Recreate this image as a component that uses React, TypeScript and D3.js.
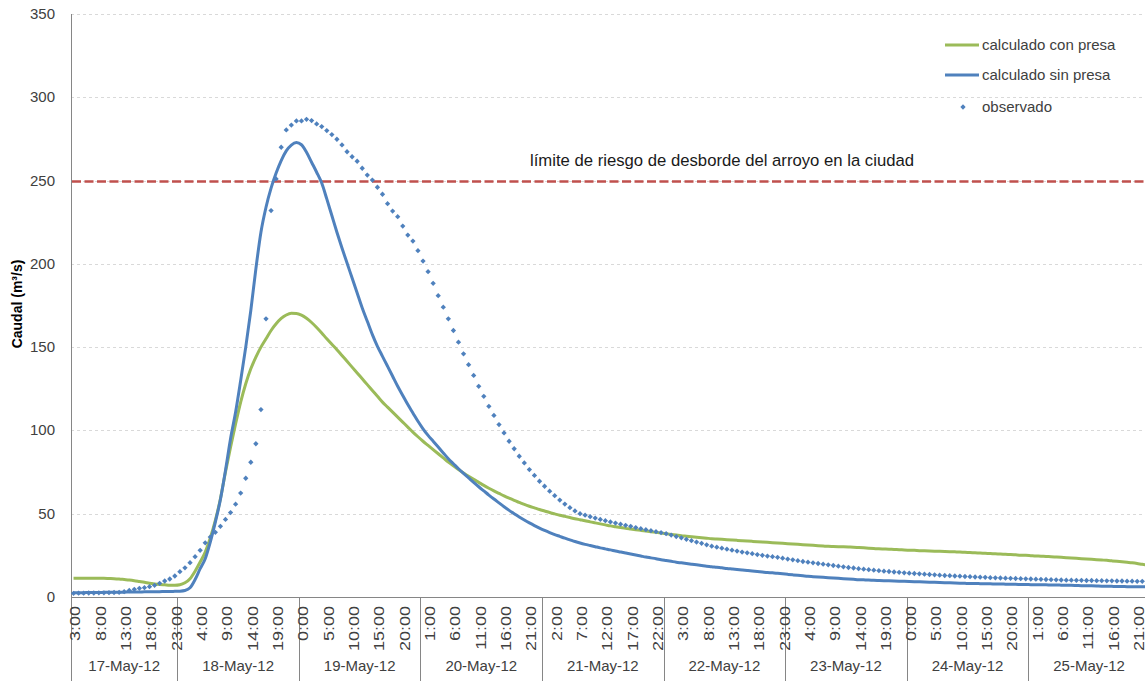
import React, { useEffect, useRef } from 'react';
import * as d3 from 'd3';

// hourly categories, 17-May-12 3:00 .. 25-May-12 23:00
const startHour = new Date(2012, 4, 17, 3);
const endHour = new Date(2012, 4, 26, 0);

const days = ['17-May-12', '18-May-12', '19-May-12', '20-May-12', '21-May-12', '22-May-12', '23-May-12', '24-May-12', '25-May-12'];
const yTicks = [0, 50, 100, 150, 200, 250, 300, 350];

const seriesNames = ['calculado con presa', 'calculado sin presa', 'observado'];

const conPresa = [
  11.2, 11.2, 11.2, 11.2, 11.2, 11.2, 11.2, 11.1, 11.0, 10.8,
  10.5, 10.2, 9.8, 9.3, 8.8, 8.2, 7.8, 7.5, 7.3, 7.1,
  7.0, 7.3, 8.5, 11.0, 15.5, 21.0, 27.0, 35.5, 46.0, 59.0,
  75.0, 90.0, 104.0, 117.0, 128.0, 137.0, 144.0, 150.0, 155.0, 160.0,
  164.0, 167.2, 169.3, 170.3, 170.2, 169.2, 167.3, 164.8, 161.8, 158.5,
  155.0, 151.7, 148.5, 145.0, 141.5, 138.0, 134.5, 131.0, 127.5, 124.0,
  120.5, 117.0, 114.0, 111.0, 108.0, 105.0, 102.0, 99.0, 96.2, 93.5,
  91.0, 88.5, 86.0, 83.5, 81.0, 78.8, 76.6, 74.5, 72.5, 70.6,
  68.8, 67.0, 65.3, 63.7, 62.2, 60.7, 59.3, 58.0, 56.8, 55.6,
  54.5, 53.5, 52.5, 51.6, 50.7, 49.9, 49.1, 48.4, 47.7, 47.0,
  46.4, 45.8, 45.1, 44.5, 43.9, 43.3, 42.7, 42.2, 41.7, 41.2,
  40.8, 40.4, 40.0, 39.6, 39.2, 38.8, 38.4, 38.0, 37.6, 37.2,
  36.8, 36.5, 36.2, 35.9, 35.6, 35.3, 35.0, 34.8, 34.6, 34.4,
  34.2, 34.0, 33.8, 33.6, 33.4, 33.2, 33.0, 32.8, 32.6, 32.4,
  32.2, 32.0, 31.8, 31.6, 31.4, 31.2, 31.0, 30.8, 30.6, 30.4,
  30.3, 30.2, 30.1, 30.0, 29.9, 29.7, 29.5, 29.3, 29.1, 28.9,
  28.8, 28.7, 28.5, 28.4, 28.2, 28.1, 28.0, 27.8, 27.7, 27.6,
  27.5, 27.4, 27.3, 27.2, 27.1, 27.0, 26.8, 26.7, 26.5, 26.4,
  26.2, 26.1, 25.9, 25.8, 25.6, 25.5, 25.3, 25.1, 25.0, 24.8,
  24.6, 24.5, 24.3, 24.2, 24.0, 23.8, 23.6, 23.4, 23.2, 23.0,
  22.8, 22.6, 22.4, 22.2, 22.0, 21.7, 21.4, 21.1, 20.8, 20.5,
  20.1, 19.6, 19.2,
];

const sinPresa = [
  2.6, 2.6, 2.6, 2.7, 2.7, 2.7, 2.8, 2.8, 2.8, 2.9,
  2.9, 3.0, 3.0, 3.0, 3.1, 3.1, 3.2, 3.2, 3.3, 3.3,
  3.4, 3.5, 3.9, 5.5, 10.5, 17.0, 23.0, 33.0, 45.0, 58.5,
  76.0, 95.0, 111.0, 130.0, 150.0, 172.0, 197.0, 219.0, 234.0, 245.5,
  254.5, 262.0, 267.8, 271.3, 272.8, 271.5, 267.0, 261.0, 255.0, 248.5,
  239.0, 229.0, 219.0, 209.5, 200.5, 191.5, 182.5, 173.5, 165.5, 157.5,
  150.5, 144.5, 138.5, 132.5, 126.5, 121.0, 115.5, 110.5, 105.5, 101.0,
  97.0, 93.5, 90.0, 86.5, 83.0, 80.0, 77.0, 74.2, 71.5, 68.8,
  66.2, 63.7, 61.2, 58.8, 56.5, 54.2, 52.0, 50.0, 48.0, 46.2,
  44.5, 42.9, 41.4, 40.0, 38.7, 37.5, 36.4, 35.3, 34.3, 33.3,
  32.4, 31.6, 30.9, 30.2, 29.5, 28.9, 28.3, 27.6, 27.0, 26.4,
  25.8, 25.2, 24.6, 24.0, 23.5, 23.0, 22.4, 21.9, 21.4, 20.9,
  20.5, 20.1, 19.7, 19.3, 18.9, 18.5, 18.2, 17.8, 17.5, 17.1,
  16.8, 16.5, 16.2, 15.9, 15.6, 15.3, 15.0, 14.7, 14.5, 14.2,
  13.9, 13.6, 13.3, 13.0, 12.7, 12.4, 12.2, 12.0, 11.8, 11.6,
  11.4, 11.2, 11.0, 10.8, 10.6, 10.4, 10.3, 10.2, 10.0, 9.9,
  9.8, 9.7, 9.6, 9.5, 9.4, 9.3, 9.2, 9.1, 9.0, 8.9,
  8.8, 8.7, 8.6, 8.5, 8.4, 8.3, 8.2, 8.1, 8.1, 8.0,
  7.9, 7.9, 7.8, 7.8, 7.7, 7.6, 7.6, 7.5, 7.5, 7.4,
  7.4, 7.3, 7.3, 7.2, 7.2, 7.1, 7.0, 7.0, 6.9, 6.8,
  6.8, 6.7, 6.6, 6.5, 6.5, 6.4, 6.3, 6.3, 6.2, 6.2,
  6.1, 6.1, 6.1,
];

const observado = [
  2.2, 2.3, 2.3, 2.4, 2.4, 2.5, 2.5, 2.6, 2.7, 2.8,
  3.2, 3.9, 4.6, 5.2, 5.6, 6.2, 7.0, 8.2, 9.6, 10.8,
  12.6, 15.2, 17.5, 20.6, 24.2, 28.0, 32.5, 36.0, 38.8, 42.4,
  46.6, 50.7, 55.7, 62.4, 71.3, 80.9, 92.0, 112.5, 167.0, 232.0,
  251.0, 270.0, 280.4, 283.3, 285.8, 285.8, 286.8, 286.0, 284.0, 282.4,
  280.0, 277.6, 274.8, 271.4, 267.3, 264.3, 261.6, 257.4, 253.3, 250.3,
  246.0, 241.8, 236.1, 231.7, 228.3, 222.7, 217.3, 213.7, 207.9, 201.7,
  195.3, 188.3, 180.9, 174.0, 167.0, 160.0, 153.0, 146.0, 139.5, 133.0,
  126.5, 120.5, 114.5, 109.0, 103.5, 98.5, 93.5, 89.0, 84.5, 80.5,
  76.5, 73.0, 69.5, 66.5, 63.5, 60.8, 58.2, 55.8, 53.6, 51.7,
  50.0, 49.1, 48.2, 47.4, 46.6, 45.8, 45.1, 44.4, 43.7, 43.0,
  42.4, 41.7, 41.0, 40.4, 39.8, 39.2, 38.6, 38.0, 37.2, 36.3,
  35.5, 34.6, 33.8, 33.0, 32.2, 31.3, 30.5, 29.9, 29.3, 28.7,
  28.1, 27.6, 27.0, 26.5, 26.0, 25.5, 25.0, 24.6, 24.2, 23.8,
  23.3, 22.8, 22.3, 21.8, 21.3, 20.9, 20.5, 20.1, 19.7, 19.3,
  18.9, 18.5, 18.1, 17.7, 17.4, 17.0, 16.7, 16.4, 16.1, 15.8,
  15.5, 15.3, 15.0, 14.8, 14.5, 14.3, 14.1, 13.9, 13.7, 13.5,
  13.3, 13.1, 12.9, 12.8, 12.6, 12.5, 12.3, 12.2, 12.0, 11.9,
  11.8, 11.6, 11.5, 11.4, 11.3, 11.2, 11.1, 11.0, 10.9, 10.8,
  10.7, 10.6, 10.5, 10.4, 10.3, 10.2, 10.1, 10.1, 10.0, 10.0,
  9.9, 9.9, 9.8, 9.8, 9.7, 9.7, 9.6, 9.6, 9.5, 9.5,
  9.4, 9.4, 9.3,
];

const limite = 250;
const limiteLabel = 'límite de riesgo de desborde del arroyo en la ciudad';

const W = 1145;
const H = 681;
const left = 71;
const top = 14;
const axisY = 597;
const hourStep = 5.065;
const font = "'Liberation Sans', Arial, sans-serif";
const green = '#9BBB59';
const blue = '#4F81BD';
const axisGrey = '#868686';
const textCol = '#404040';

export default function App() {
  const ref = useRef<SVGSVGElement>(null);

  useEffect(() => {
    const svg = d3.select(ref.current);
    svg.selectAll('*').remove();

    const hours = d3.timeHour.range(startHour, endHour);
    const idx = d3.range(hours.length);
    const x = d3.scaleBand<number>()
      .domain(idx)
      .range([left, left + hours.length * hourStep])
      .paddingInner(0)
      .paddingOuter(0);
    const cx = (i: number) => (x(i) as number) + x.bandwidth() / 2;
    const y = d3.scaleLinear().domain([0, 350]).range([axisY, top]);

    // gridlines
    svg.append('g')
      .selectAll('line')
      .data(yTicks.filter(d => d > 0))
      .enter()
      .append('line')
      .attr('x1', left)
      .attr('x2', W)
      .attr('y1', d => Math.round(y(d)) + 0.5)
      .attr('y2', d => Math.round(y(d)) + 0.5)
      .attr('stroke', '#D9D9D9')
      .attr('stroke-dasharray', '3,3');

    // y tick labels
    svg.append('g')
      .selectAll('text')
      .data(yTicks)
      .enter()
      .append('text')
      .attr('x', 55)
      .attr('y', d => y(d) + 5)
      .attr('text-anchor', 'end')
      .attr('font-family', font)
      .attr('font-size', 15)
      .attr('fill', textCol)
      .text(d => d);

    // axis title
    svg.append('text')
      .attr('transform', 'translate(22,304) rotate(-90)')
      .attr('text-anchor', 'middle')
      .attr('font-family', font)
      .attr('font-size', 14)
      .attr('font-weight', 'bold')
      .attr('fill', '#000')
      .text('Caudal (m³/s)');

    // axis lines
    svg.append('line')
      .attr('x1', left + 0.5).attr('x2', left + 0.5)
      .attr('y1', top).attr('y2', H)
      .attr('stroke', axisGrey);
    svg.append('line')
      .attr('x1', left).attr('x2', W)
      .attr('y1', axisY + 0.5).attr('y2', axisY + 0.5)
      .attr('stroke', axisGrey);

    // day separators and labels
    const dayStarts = idx.filter(i => hours[i].getHours() === 0);
    svg.append('g')
      .selectAll('line')
      .data(dayStarts)
      .enter()
      .append('line')
      .attr('x1', i => Math.round(x(i) as number) + 0.5)
      .attr('x2', i => Math.round(x(i) as number) + 0.5)
      .attr('y1', axisY)
      .attr('y2', H)
      .attr('stroke', axisGrey);

    const bounds = [0, ...dayStarts, hours.length];
    svg.append('g')
      .selectAll('text')
      .data(days)
      .enter()
      .append('text')
      .attr('x', (d, k) => {
        const a = x(bounds[k]) as number;
        const b = bounds[k + 1] < hours.length ? (x(bounds[k + 1]) as number) : left + hours.length * hourStep;
        return (a + b) / 2;
      })
      .attr('y', 671)
      .attr('text-anchor', 'middle')
      .attr('font-family', font)
      .attr('font-size', 15)
      .attr('fill', textCol)
      .text(d => d);

    // hour labels every 5 categories
    const fmt = d3.timeFormat('%-H:00');
    svg.append('g')
      .selectAll('text')
      .data(idx.filter(i => i % 5 === 0))
      .enter()
      .append('text')
      .attr('transform', i => `translate(${cx(i) + 6.9},606) rotate(-90) scale(1.2,1)`)
      .attr('text-anchor', 'end')
      .attr('font-family', font)
      .attr('font-size', 15)
      .attr('fill', textCol)
      .text(i => fmt(hours[i]));

    // limit line
    svg.append('line')
      .attr('x1', left + 1)
      .attr('x2', W)
      .attr('y1', y(limite) + 1)
      .attr('y2', y(limite) + 1)
      .attr('stroke', '#C0504D')
      .attr('stroke-width', 2.5)
      .attr('stroke-dasharray', '9,3.5');
    svg.append('text')
      .attr('x', 722)
      .attr('y', 166)
      .attr('text-anchor', 'middle')
      .attr('font-family', font)
      .attr('font-size', 16.7)
      .attr('fill', '#1a1a1a')
      .text(limiteLabel);

    // series
    const line = d3.line<number>()
      .x((d, i) => cx(i))
      .y(d => y(d))
      .curve(d3.curveMonotoneX);

    svg.append('path')
      .attr('d', line(conPresa))
      .attr('fill', 'none')
      .attr('stroke', green)
      .attr('stroke-width', 3);
    svg.append('path')
      .attr('d', line(sinPresa))
      .attr('fill', 'none')
      .attr('stroke', blue)
      .attr('stroke-width', 3);

    const diamond = d3.symbol().type(d3.symbolSquare).size(14);
    svg.append('g')
      .selectAll('path')
      .data(observado)
      .enter()
      .append('path')
      .attr('d', diamond())
      .attr('transform', (d, i) => `translate(${cx(i)},${y(d)}) rotate(45)`)
      .attr('fill', blue);

    // legend
    const lg = svg.append('g').attr('font-family', font).attr('font-size', 15).attr('fill', textCol);
    lg.append('line').attr('x1', 945).attr('x2', 979).attr('y1', 45).attr('y2', 45)
      .attr('stroke', green).attr('stroke-width', 3);
    lg.append('text').attr('x', 982).attr('y', 50).text(seriesNames[0]);
    lg.append('line').attr('x1', 945).attr('x2', 979).attr('y1', 75).attr('y2', 75)
      .attr('stroke', blue).attr('stroke-width', 3);
    lg.append('text').attr('x', 982).attr('y', 80).text(seriesNames[1]);
    lg.append('path').attr('d', diamond()).attr('transform', 'translate(963,107) rotate(45)').attr('fill', blue);
    lg.append('text').attr('x', 982).attr('y', 112).text(seriesNames[2]);
  }, []);

  return (
    <svg
      ref={ref}
      width={W}
      height={H}
      style={{ position: 'absolute', left: 0, top: 0, display: 'block', background: '#fff' }}
    />
  );
}
